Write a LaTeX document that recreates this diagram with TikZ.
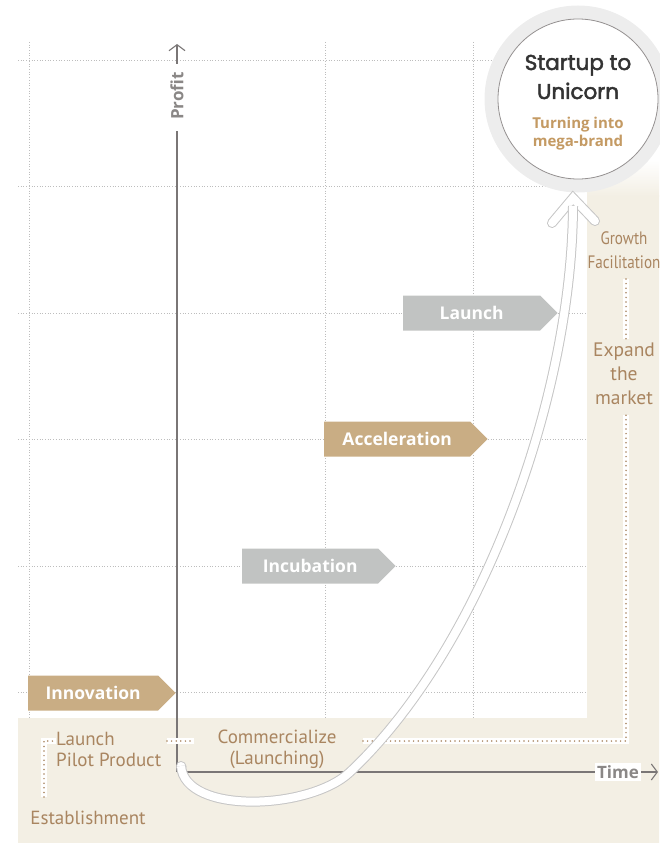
\documentclass[tikz,border=0pt]{standalone}
\usepackage{fontspec}
\setmainfont{PT Sans}
\newfontfamily\titlefont[FakeBold=2.2]{Poppins}
\newfontfamily\tagfont{Open Sans}
\newfontfamily\narrowfont[FakeStretch=0.84]{PT Sans}
\usetikzlibrary{shapes.symbols, arrows.meta, calc}
\definecolor{Beige}{HTML}{F3EFE4}
\definecolor{TanFill}{HTML}{C9AD84}
\definecolor{TagGray}{HTML}{C1C3C2}
\definecolor{LabelTan}{HTML}{A98560}
\definecolor{SubTan}{HTML}{C49A63}
\definecolor{AxisGray}{HTML}{7A7676}
\definecolor{AxisText}{HTML}{8A8786}
\definecolor{TitleDark}{HTML}{333333}
\definecolor{RingGray}{HTML}{EDEDED}
\definecolor{GridGray}{HTML}{BDBDBD}
\definecolor{CurveGray}{HTML}{C6C6C6}
\tikzset{
    % grid and axes
    gridline/.style={
        draw=GridGray,
        line width=0.7pt,
        dotted
    },
    axisline/.style={
        draw=AxisGray,
        line width=1.2pt
    },
    axisarrow/.style={
        draw=AxisGray,
        line width=1.1pt,
        -{Straight Barb[length=6pt,width=16pt]}
    },
    axislabel/.style={
        text=AxisText,
        font=\tagfont\fontsize{17}{20}\selectfont\bfseries,
        fill=white,
        inner sep=2pt
    },
    % stage tags
    tagbox/.style={
        signal,
        signal to=east,
        signal pointer angle=90,
        fill=#1,
        text=white,
        font=\tagfont\fontsize{17.5}{21}\selectfont\bfseries,
        minimum height=35pt,
        inner xsep=0pt,
        align=center,
        anchor=west
    },
    % route labels
    steplabel/.style={
        text=LabelTan,
        font=\fontsize{19}{21}\selectfont,
        align=center,
        inner sep=1pt
    },
    routeline/.style={
        preaction={draw=white, line width=6pt},
        draw=LabelTan,
        line width=1.7pt,
        line cap=round,
        dash pattern=on 0pt off 4.6pt
    },
    % growth curve
    growth/.style={
        draw=CurveGray,
        line width=1pt,
        double=white,
        double distance=8pt
    }
}
\begin{document}
\begin{tikzpicture}[x=1pt, y=-1pt]
    \useasboundingbox (0,0) rectangle (659,843);

    % background
    \fill[Beige] (18,718) -- (587,718) -- (587,195) -- (659,195) -- (659,843) -- (18,843) -- cycle;
    \shade[top color=white, bottom color=Beige] (587,160) rectangle (659,196);

    % grid
    \foreach \gy in {60,186,313,439,566,692}
        \draw[gridline] (18,\gy) -- (587,\gy);
    \foreach \gx in {29,325,473}
        \draw[gridline] (\gx,42) -- (\gx,718);

    % axes
    \coordinate (origin) at (177,772);
    \coordinate (profittip) at (177,44);
    \coordinate (timetip) at (658,772);
    \node[axislabel, rotate=90] (profit) at (177,96) {Profit};
    \node[axislabel] (time) at (618,772) {Time};
    \draw[axisline] (origin) -- ([yshift=-9pt]profit.west);
    \draw[axisarrow, shorten <=6pt] (profit.east) -- (profittip);
    \draw[axisline] (origin) -- (time.west);
    \draw[axisarrow] (time.east) -- (timetip);

    % stage tags
    \node[tagbox=TanFill, text width=130pt] (innovation) at (28,693) {Innovation};
    \node[tagbox=TagGray, text width=136pt] (incubation) at (242,566) {Incubation};
    \node[tagbox=TanFill, text width=146pt] (acceleration) at (324,439) {Acceleration};
    \node[tagbox=TagGray, text width=137pt] (launch) at (403,313) {Launch};

    % route labels
    \node[steplabel, align=left, anchor=west] (pilot) at (55,749) {Launch\\Pilot Product};
    \node[steplabel] (commercial) at (277,749) {Commercialize\\(Launching)};
    \node[steplabel] (establish) at (88,818) {Establishment};
    \node[steplabel, font=\narrowfont\fontsize{18}{24}\selectfont] (growthfac) at (624,250) {Growth\\Facilitation};
    \node[steplabel, font=\fontsize{19.5}{24}\selectfont] (expand) at (624,374) {Expand\\the\\market};

    % route
    \draw[routeline] (44,797) -- (44,741) -- (56,741);
    \draw[routeline] (167,741) -- (194,741);
    \draw[routeline] (363,741) -- (626,741) -- (626,415);
    \draw[routeline] (626,279) -- (626,339);

    % goal circle
    \node[circle, fill=RingGray, minimum size=187pt] (ring) at (578,99) {};
    \node[circle, draw=AxisGray!80, line width=0.8pt, fill=white, minimum size=160pt] (unicorn) at (ring) {};
    \node[text=TitleDark, font=\titlefont\fontsize{21.5}{29}\selectfont, align=center] (unicorntitle) at (578,77) {Startup to\\Unicorn};
    \node[text=SubTan, font=\tagfont\fontsize{15}{18}\selectfont\bfseries, align=center] (unicornsub) at (578,134) {Turning into\\mega-brand};

    % growth curve
    \coordinate (curvestart) at (181,766);
    \coordinate (tip) at (573,198);
    \coordinate (shaftend) at (573,206);
    \draw[growth, line cap=round] (curvestart) -- ++(0.5,0.5);
    \draw[growth, line cap=round, line join=miter] ($(tip)+(-21,25)$) -- (tip) -- ($(tip)+(22,23)$);
    \draw[growth] (curvestart) .. controls (185,815) and (310,810) .. (350,772)
        .. controls (480,650) and (572,400) .. (shaftend);
\end{tikzpicture}
\end{document}
